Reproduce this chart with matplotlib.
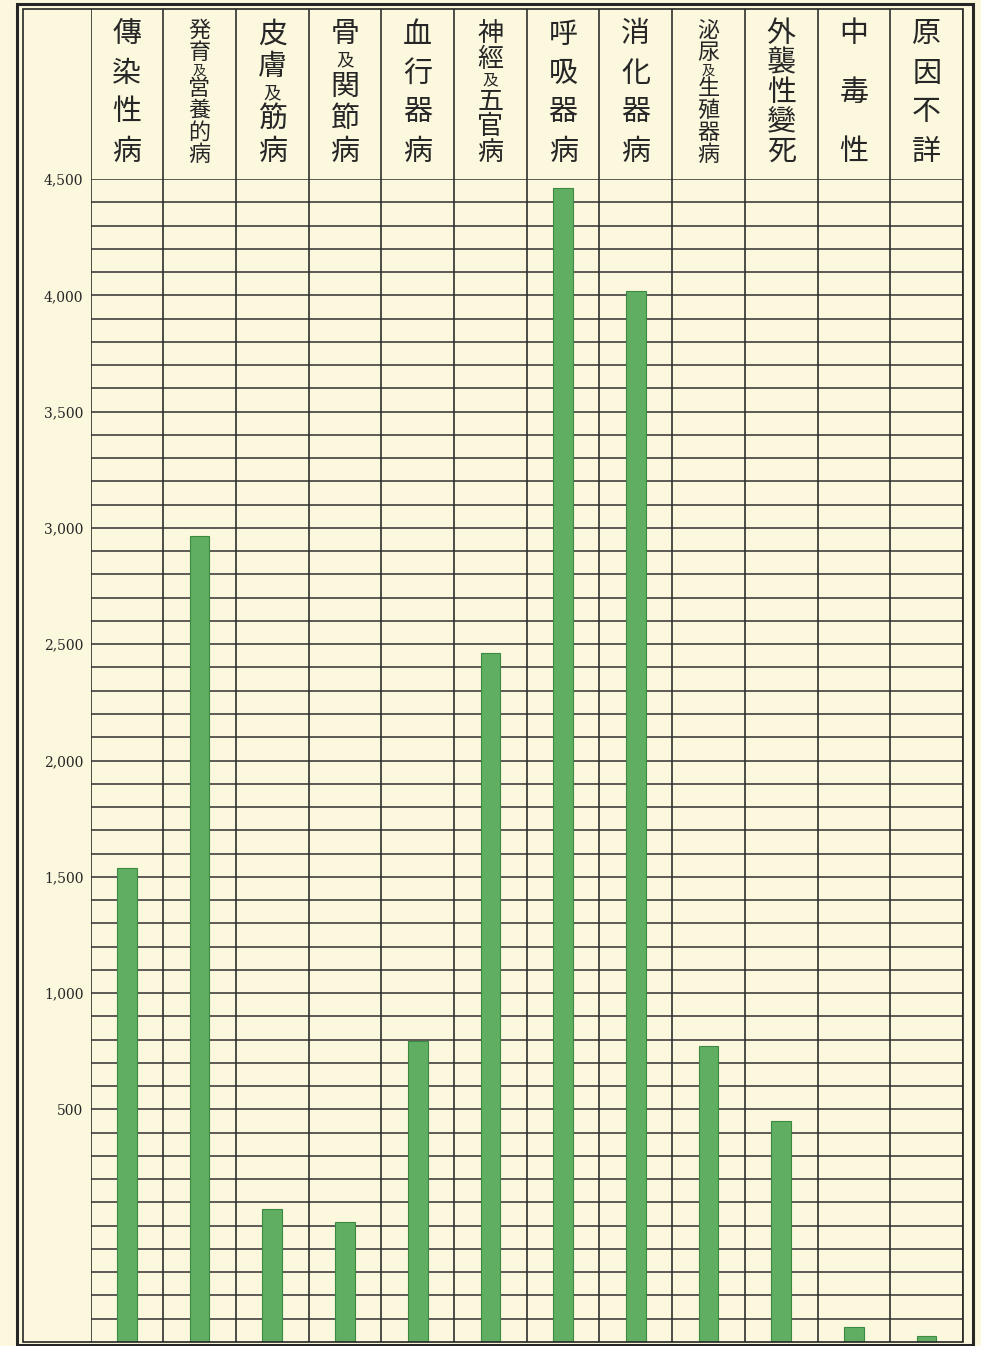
import matplotlib
matplotlib.use("Agg")
import matplotlib.pyplot as plt
from matplotlib.patches import Rectangle
import numpy as np

plt.rcParams['font.family'] = ['Noto Sans CJK JP', 'DejaVu Sans']

# --- data (values read against the printed scale) ---
categories = ['傳染性病', '発育及営養的病', '皮膚及筋病', '骨及関節病', '血行器病',
              '神經及五官病', '呼吸器病', '消化器病', '泌尿及生殖器病', '外襲性變死',
              '中毒性', '原因不詳']
values = [1536, 2967, 70, 15, 795, 2464, 4461, 4019, 773, 449, -435, -475]
y_min, y_max = -500, 4500
tick_values = [500, 1000, 1500, 2000, 2500, 3000, 3500, 4000, 4500]

# --- style ---
PAPER = '#FBF8DD'
INK = '#262626'
GRID = '#303030'
BAR = '#5FAE62'
BAR_EDGE = '#3C8A42'
SMALL_CHARS = {'及'}

W, H = 981, 1346
fig = plt.figure(figsize=(W / 100, H / 100), dpi=100, facecolor=PAPER)


def fx(px):
    return px / W


def fy(py):
    return 1 - py / H


left, right = 90.5, 963
grid_top, grid_bot, head_top = 179, 1342, 9

# main grid axes
ax = fig.add_axes([fx(left), fy(grid_bot), (right - left) / W, (grid_bot - grid_top) / H])
ax.set_facecolor(PAPER)
n = len(categories)
x = np.arange(n)
ax.set_xlim(-0.5, n - 0.5)
ax.set_ylim(y_min, y_max)

for v in range(y_min + 100, y_max + 1, 100):
    ax.axhline(v, color=GRID, lw=1.1, zorder=1)
for b in np.arange(-0.5, n, 1.0):
    ax.axvline(b, color=GRID, lw=1.2, zorder=1)

heights = [v - y_min for v in values]
ax.bar(x, heights, bottom=y_min, width=0.27, color=BAR, edgecolor=BAR_EDGE,
       lw=0.8, zorder=3)

ax.set_xticks([])
ax.set_yticks(tick_values)
ax.set_yticklabels([f"{v:,}" for v in tick_values], family='DejaVu Serif',
                   fontsize=10, color=INK)
ax.tick_params(axis='y', length=0, pad=5)
for s in ax.spines.values():
    s.set_visible(False)

# header axes with vertical labels
hx = fig.add_axes([fx(left), fy(grid_top), (right - left) / W, (grid_top - head_top) / H])
hx.set_facecolor(PAPER)
hx.set_xlim(-0.5, n - 0.5)
hx.set_ylim(0, grid_top - head_top)
hx.axis('off')
for b in np.arange(-0.5, n, 1.0):
    hx.axvline(b, color=GRID, lw=1.2)

text_top, text_bot = 20, 166  # pixel extent of the stacked characters
for i, label in enumerate(categories):
    w = [0.6 if ch in SMALL_CHARS else 1.0 for ch in label]
    em = min(29, (text_bot - text_top) / sum(w))
    cum = np.cumsum(w) - np.array(w) / 2
    c0, c1 = text_top + em / 2, text_bot - em / 2
    if len(label) > 1:
        pos = c0 + (cum - cum[0]) / (cum[-1] - cum[0]) * (c1 - c0)
    else:
        pos = [(c0 + c1) / 2]
    fs = em / 1.389
    for ch, wi, ypix in zip(label, w, pos):
        hx.text(i, grid_top - ypix, ch, ha='center', va='center',
                fontsize=fs * (0.6 if wi < 1 else 1.0), color=INK)

# frame lines
fig.add_artist(Rectangle((fx(23), fy(grid_bot)), (right - 23) / W, (grid_bot - head_top) / H,
                         transform=fig.transFigure, fill=False, ec=INK, lw=1.2))
fig.add_artist(Rectangle((fx(17), fy(1345)), (973 - 17) / W, (1345 - 4) / H,
                         transform=fig.transFigure, fill=False, ec=INK, lw=2.2))

fig.savefig('out.png', dpi=100, facecolor=PAPER)
